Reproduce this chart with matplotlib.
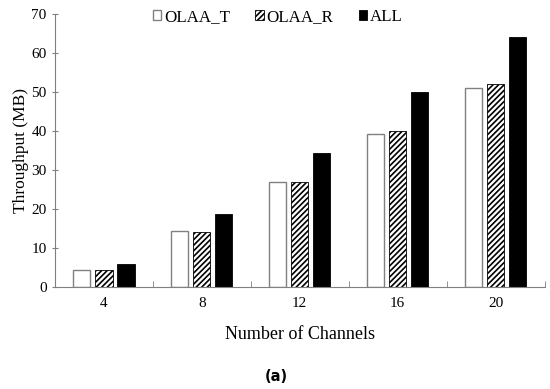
import numpy as np
import matplotlib.pyplot as plt

channels = ["4", "8", "12", "16", "20"]
olaa_t = [4.5, 14.4, 27.0, 39.3, 51.0]
olaa_r = [4.4, 14.0, 27.0, 40.1, 52.0]
all_ch = [5.8, 18.8, 34.3, 50.0, 64.0]

plt.rcParams["font.family"] = ["Liberation Serif", "DejaVu Serif"]
plt.rcParams["hatch.linewidth"] = 1.2

fig = plt.figure(figsize=(5.5, 3.89), dpi=100)
ax = fig.add_axes([0.1, 0.262, 0.89, 0.702])

x = np.arange(len(channels))
w = 0.175
gap = 0.225
edge = "#808080"
ax.bar(x - gap, olaa_t, w, color="white", edgecolor=edge, linewidth=1, label="OLAA_T")
ax.bar(x, olaa_r, w, color="white", edgecolor="black", hatch="//////", linewidth=0.6, label="OLAA_R")
ax.bar(x + gap, all_ch, w, color="black", edgecolor="black", linewidth=0.6, label="ALL")

ax.set_xlim(-0.5, len(channels) - 0.5)
ax.set_ylim(0, 70)
ax.set_yticks(range(0, 71, 10))
ax.set_xticks(x)
ax.set_xticklabels(channels)
ax.set_xticks(np.arange(len(channels)) + 0.5, minor=True)
ax.tick_params(axis="x", which="major", length=0, pad=7, labelsize=11)
ax.tick_params(axis="x", which="minor", direction="in", length=4, color=edge)
ax.tick_params(axis="y", direction="inout", length=5, color=edge, labelsize=11)

for s in ["top", "right"]:
    ax.spines[s].set_visible(False)
for s in ["left", "bottom"]:
    ax.spines[s].set_color(edge)

ax.set_ylabel("Throughput (MB)", fontsize=12.5, labelpad=2)
ax.set_xlabel("Number of Channels", fontsize=13, labelpad=12)

leg = ax.legend(loc="upper center", bbox_to_anchor=(0.455, 1.075), ncol=3, frameon=False,
                fontsize=12.2, handlelength=0.5, handleheight=0.5, handletextpad=0.15,
                columnspacing=1.5)

fig.text(0.503, 0.02, "(a)", fontsize=10.5, fontweight="bold",
         family=["DejaVu Sans"], ha="center")

fig.savefig("out.png", dpi=100)
